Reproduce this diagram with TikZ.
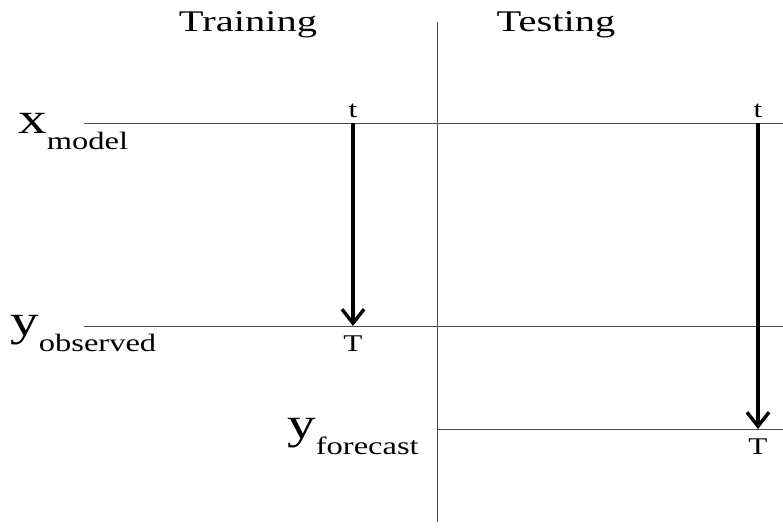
\documentclass[tikz,border=0pt]{standalone}
\usepackage{fontspec}
\setmainfont{Liberation Serif}
\usetikzlibrary{arrows.meta,positioning}

\newcommand{\varname}[2]{{\fontsize{44}{44}\selectfont #1}\raisebox{-16pt}{\fontsize{25}{25}\selectfont #2}}

\begin{document}
\begin{tikzpicture}[x=1pt,y=-1pt,
    rule/.style={draw=black!70,line width=1pt},
    phase/.style={font=\fontsize{30}{30}\selectfont,xscale=1.35,inner sep=0pt,anchor=base},
    var/.style={xscale=1.3,inner sep=0pt,anchor=base west},
    tick/.style={font=\fontsize{24}{24}\selectfont,xscale=1.3,inner sep=0pt},
    span/.style={-{Straight Barb[length=14pt,width=22pt]},line width=3.4pt}]
  \useasboundingbox (0,0) rectangle (783,527);
  % phases
  \node[phase] (train) at (248,32) {Training};
  \node[phase] (test) at (556,31) {Testing};
  \draw[rule] (437,22) -- (437,522);
  % variables
  \node[var] (xm) at (18,133) {\varname{x}{model}};
  \node[var] (yo) at (10,335) {\varname{y}{observed}};
  \node[var] (yf) at (287,438) {\varname{y}{forecast}};
  \draw[rule] (84,123) -- (783,123);
  \draw[rule] (84,326) -- (783,326);
  \draw[rule] (437,429) -- (783,429);
  % training window
  \coordinate (s1) at (353,123);
  \coordinate (e1) at (353,326);
  \node[tick,above=5pt of s1] (t1) {t};
  \node[tick,below=10pt of e1] (T1) {T};
  \draw[span] (s1) -- (e1);
  % testing window
  \coordinate (s2) at (758,123);
  \coordinate (e2) at (758,429);
  \node[tick,above=5pt of s2] (t2) {t};
  \node[tick,below=10pt of e2] (T2) {T};
  \draw[span] (s2) -- (e2);
\end{tikzpicture}
\end{document}
